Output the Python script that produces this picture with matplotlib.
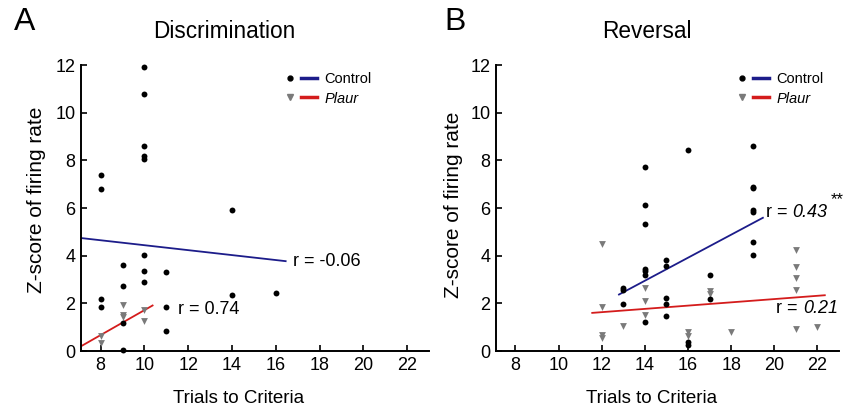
import matplotlib
matplotlib.use("Agg")
import matplotlib.pyplot as plt
from matplotlib.lines import Line2D
from matplotlib.legend_handler import HandlerTuple
from matplotlib.offsetbox import TextArea, HPacker, AnnotationBbox

plt.rcParams['font.family'] = ['Liberation Sans', 'DejaVu Sans']

# ---- Discrimination (A) ----
disc_ctrl_x = [8, 8, 8, 8, 9, 9, 9, 9, 10, 10, 10, 10, 10, 10, 10, 10, 11, 11, 11, 14, 14, 16]
disc_ctrl_y = [7.39, 6.81, 2.19, 1.84, 3.61, 2.72, 1.16, 0.05, 11.9, 10.78, 8.59, 8.2, 8.05,
               4.01, 3.35, 2.88, 3.3, 1.86, 0.83, 5.93, 2.36, 2.42]
disc_plaur_x = [8, 8, 9, 9, 9, 10, 10]
disc_plaur_y = [0.65, 0.32, 1.93, 1.51, 1.44, 1.74, 1.28]
disc_fit_ctrl_x = [7.1, 16.45]
disc_fit_ctrl_y = [4.74, 3.77]
disc_fit_plaur_x = [7.1, 10.37]
disc_fit_plaur_y = [0.2, 1.91]

# ---- Reversal (B) ----
rev_ctrl_x = [13, 13, 13, 14, 14, 14, 14, 14, 14, 14, 15, 15, 15, 15, 15,
              16, 16, 16, 17, 17, 19, 19, 19, 19, 19, 19, 19]
rev_ctrl_y = [2.66, 2.55, 1.97, 7.72, 6.13, 5.35, 3.45, 3.35, 3.21, 1.21, 3.82, 3.58, 2.23, 1.97, 1.48,
              8.42, 0.39, 0.25, 3.21, 2.18, 8.59, 6.9, 6.83, 5.92, 5.83, 4.59, 4.03]
rev_plaur_x = [12, 12, 12, 12, 13, 14, 14, 14, 16, 16, 17, 17, 18, 21, 21, 21, 21, 21, 22]
rev_plaur_y = [4.5, 1.83, 0.69, 0.55, 1.07, 2.63, 2.11, 1.51, 0.79, 0.62, 2.5, 2.4, 0.81,
               4.23, 3.52, 3.05, 2.56, 0.93, 1.02]
rev_fit_ctrl_x = [12.8, 19.47]
rev_fit_ctrl_y = [2.37, 5.59]
rev_fit_plaur_x = [11.56, 22.34]
rev_fit_plaur_y = [1.6, 2.34]

xticks = [8, 10, 12, 14, 16, 18, 20, 22]
yticks = [0, 2, 4, 6, 8, 10, 12]

BLUE = '#1c1c8a'
RED = '#d41c1c'
GREY = '#7a7a7a'

fig = plt.figure(figsize=(8.43, 4.05), dpi=100)
axA = fig.add_axes([0.0961, 0.1333, 0.4128, 0.7062])
axB = fig.add_axes([0.5884, 0.1333, 0.4069, 0.7062])


def style(ax):
    ax.set_xlim(7.1, 23)
    ax.set_ylim(0, 12)
    ax.set_xticks(xticks)
    ax.set_yticks(yticks)
    for s in ['top', 'right']:
        ax.spines[s].set_visible(False)
    for s in ['left', 'bottom']:
        ax.spines[s].set_linewidth(1.4)
    ax.tick_params(direction='in', length=4, width=1.2, labelsize=13, pad=4)
    for lab in ax.get_xticklabels() + ax.get_yticklabels():
        lab.set_family(['Liberation Sans Narrow', 'Liberation Sans'])
    ax.set_xlabel('Trials to Criteria', fontsize=13.5)
    ax.set_ylabel('Z-score of firing rate', fontsize=15)
    ax.xaxis.set_label_coords(0.452, -0.135)


def draw(ax, cx, cy, px, py, fcx, fcy, fpx, fpy):
    ax.scatter(px, py, marker='v', s=24, color=GREY, linewidths=0, zorder=3, clip_on=False)
    ax.scatter(cx, cy, marker='o', s=18, color='black', linewidths=0, zorder=4, clip_on=False)
    ax.plot(fcx, fcy, color=BLUE, lw=1.3, zorder=2)
    ax.plot(fpx, fpy, color=RED, lw=1.3, zorder=2)
    dot = Line2D([], [], marker='o', ls='none', color='black', markersize=3.5)
    tri = Line2D([], [], marker='v', ls='none', color=GREY, markersize=4)
    bl = Line2D([], [], color=BLUE, lw=2.5)
    rl = Line2D([], [], color=RED, lw=2.5)
    return [(dot, bl), (tri, rl)]


def r_label(ax, x, y, value):
    parts = [TextArea('r = ', textprops=dict(fontsize=13)),
             TextArea(value, textprops=dict(fontsize=13, style='italic'))]
    box = HPacker(children=parts, sep=0, pad=0, align='baseline')
    ax.add_artist(AnnotationBbox(box, (x, y), xycoords='data', box_alignment=(0, 0.5),
                                 frameon=False, pad=0))


hA = draw(axA, disc_ctrl_x, disc_ctrl_y, disc_plaur_x, disc_plaur_y,
          disc_fit_ctrl_x, disc_fit_ctrl_y, disc_fit_plaur_x, disc_fit_plaur_y)
hB = draw(axB, rev_ctrl_x, rev_ctrl_y, rev_plaur_x, rev_plaur_y,
          rev_fit_ctrl_x, rev_fit_ctrl_y, rev_fit_plaur_x, rev_fit_plaur_y)

for ax, h, anchor in [(axA, hA, (0.54, 1.02)), (axB, hB, (0.655, 1.02))]:
    style(ax)
    leg = ax.legend(h, ['Control', 'Plaur'], loc='upper left', bbox_to_anchor=anchor,
                    handler_map={tuple: HandlerTuple(ndivide=None, pad=0.2)},
                    handlelength=2.4, handletextpad=0.5, labelspacing=0.35,
                    frameon=False, fontsize=10.5)
    leg.get_texts()[1].set_style('italic')

axA.yaxis.set_label_coords(-0.10, 0.53)
axB.yaxis.set_label_coords(-0.095, 0.51)

axA.text(16.77, 3.77, 'r = -0.06', fontsize=13, va='center', ha='left')
axA.text(11.55, 1.74, 'r = 0.74', fontsize=13, va='center', ha='left')
r_label(axB, 19.6, 5.82, '0.43')
axB.text(22.6, 6.35, '**', fontsize=12, va='center', ha='left')
r_label(axB, 20.09, 1.79, '0.21')

fig.text(24.5 / 843, 1 - 22 / 405, 'A', fontsize=23, ha='center', va='center')
fig.text(455 / 843, 1 - 22 / 405, 'B', fontsize=23, ha='center', va='center')
fig.text(224 / 843, 1 - 31 / 405, 'Discrimination', fontsize=16.3, ha='center', va='center')
fig.text(647 / 843, 1 - 31 / 405, 'Reversal', fontsize=16.3, ha='center', va='center')

fig.savefig('out.png', dpi=100)
